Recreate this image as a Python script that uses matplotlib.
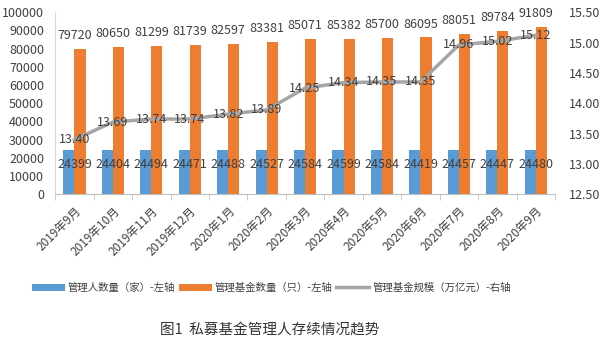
import numpy as np
import matplotlib.pyplot as plt

plt.rcParams['font.family'] = ['Noto Sans CJK SC', 'DejaVu Sans']

months = ["2019年9月", "2019年10月", "2019年11月", "2019年12月", "2020年1月",
          "2020年2月", "2020年3月", "2020年4月", "2020年5月", "2020年6月",
          "2020年7月", "2020年8月", "2020年9月"]
managers = [24399, 24404, 24494, 24471, 24488, 24527, 24584,
            24599, 24584, 24419, 24457, 24447, 24480]
funds = [79720, 80650, 81299, 81739, 82597, 83381, 85071,
         85382, 85700, 86095, 88051, 89784, 91809]
scale = [13.40, 13.69, 13.74, 13.74, 13.82, 13.89, 14.25,
         14.34, 14.35, 14.35, 14.96, 15.02, 15.12]

BLUE = "#5B9BD5"
ORANGE = "#ED7D31"
GRAY = "#A5A5A5"
TXT = "#404040"

fig = plt.figure(figsize=(6.0, 3.47), dpi=100)
ax = fig.add_axes([0.092, 0.44, 0.833, 0.525])
ax2 = ax.twinx()

x = np.arange(len(months))
w = 0.29
b1 = ax.bar(x - w / 2, managers, w, color=BLUE, label="管理人数量（家）-左轴")
b2 = ax.bar(x + w / 2, funds, w, color=ORANGE, label="管理基金数量（只）-左轴")

for xi, v in zip(x, managers):
    ax.annotate(str(v), (xi, v), xytext=(0, -6), textcoords="offset points",
                ha="center", va="top", fontsize=9, color=TXT)
for xi, v in zip(x, funds):
    ax.annotate(str(v), (xi, v), xytext=(0, 5), textcoords="offset points",
                ha="center", va="bottom", fontsize=9, color=TXT)

ln, = ax2.plot(x, scale, color=GRAY, lw=2.5, label="管理基金规模（万亿元）-右轴")
for xi, v in zip(x, scale):
    ax2.text(xi, v, f"{v:.2f}", ha="center", va="center", fontsize=9, color=TXT)

ax.set_xlim(-0.5, len(months) - 0.5)
ax.set_ylim(0, 100000)
ax.set_yticks(np.arange(0, 100001, 10000))
ax2.set_ylim(12.5, 15.5)
ax2.set_yticks(np.arange(12.5, 15.51, 0.5))
ax2.set_yticklabels([f"{t:.2f}" for t in np.arange(12.5, 15.51, 0.5)])

ax.set_xticks(x)
ax.set_xticklabels(months, rotation=45, ha="right", rotation_mode="anchor",
                   fontsize=8.5, color=TXT)
ax.set_xticks(np.arange(-0.5, len(months), 1), minor=True)
ax.tick_params(axis="x", which="major", length=0, pad=7)
ax.tick_params(axis="x", which="minor", length=4, color="#BFBFBF")
ax.tick_params(axis="y", length=0, labelsize=9, labelcolor=TXT, pad=8)
ax2.tick_params(axis="y", length=0, labelsize=9, labelcolor=TXT, pad=10)

for a in (ax, ax2):
    for s in ("top", "right"):
        a.spines[s].set_visible(False)
ax2.spines["left"].set_visible(False)
ax2.spines["bottom"].set_visible(False)
ax.spines["left"].set_color("#D9D9D9")
ax.spines["bottom"].set_color("#BFBFBF")

fig.legend(handles=[b1, b2, ln], loc="center", bbox_to_anchor=(0.452, 0.17),
           ncol=3, frameon=False, fontsize=7.5, handlelength=3.2,
           handletextpad=0.3, columnspacing=0.3, labelcolor=TXT)

fig.text(0.45, 0.04, "图1  私募基金管理人存续情况趋势", ha="center",
         fontsize=10.5, color="#333333")

fig.savefig("out.png", dpi=100)
